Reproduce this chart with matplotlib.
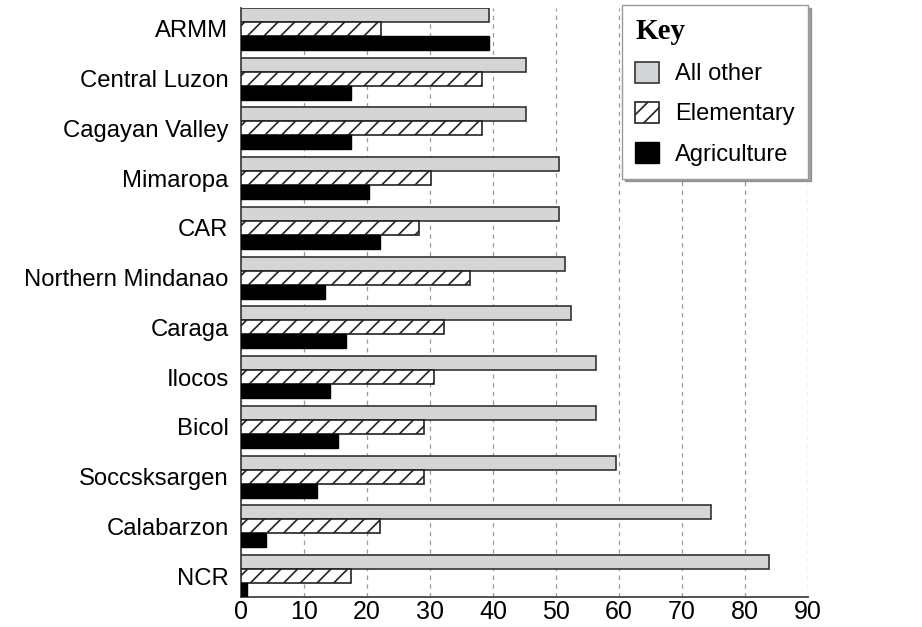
import numpy as np
import matplotlib
matplotlib.use("Agg")
import matplotlib.pyplot as plt

regions = ["ARMM", "Central Luzon", "Cagayan Valley", "Mimaropa", "CAR",
           "Northern Mindanao", "Caraga", "Ilocos", "Bicol", "Soccsksargen",
           "Calabarzon", "NCR"]
all_other = [39.3, 45.3, 45.3, 50.5, 50.5, 51.5, 52.4, 56.3, 56.3, 59.6, 74.6, 83.8]
elementary = [22.3, 38.2, 38.2, 30.2, 28.2, 36.3, 32.3, 30.7, 29.0, 29.0, 22.1, 17.4]
agriculture = [39.3, 17.4, 17.4, 20.3, 22.1, 13.3, 16.7, 14.1, 15.4, 12.1, 3.9, 0.9]
xticks = [0, 10, 20, 30, 40, 50, 60, 70, 80, 90]

plt.rcParams["font.family"] = ["Liberation Sans", "DejaVu Sans"]
plt.rcParams["hatch.linewidth"] = 1.2

fig = plt.figure(figsize=(9.22, 6.27), dpi=100)
ax = fig.add_axes([241 / 922, 1 - 597 / 627, (808 - 241) / 922, (597 - 8) / 627])

y = np.arange(len(regions))
h = 0.28
ax.barh(y - h, all_other, height=h, color="#d4d5d7", edgecolor="#333333",
        linewidth=1.2, label="All other", zorder=3)
ax.barh(y, elementary, height=h, color="white", edgecolor="#222222",
        hatch="//", linewidth=1.2, label="Elementary", zorder=3)
ax.barh(y + h, agriculture, height=h, color="black", edgecolor="black",
        linewidth=1.0, label="Agriculture", zorder=3)

ax.set_ylim(len(regions) - 1 + 1.5 * h, -1.5 * h)
ax.set_xlim(0, 90)
ax.set_xticks(xticks)
ax.set_yticks(y)
ax.set_yticklabels(regions, fontsize=17.2)
ax.tick_params(axis="x", labelsize=18, length=0, pad=2)
ax.tick_params(axis="y", length=0, pad=9)

ax.grid(axis="x", linestyle=(0, (3.5, 3.5)), color="#9a9a9a", linewidth=0.9, zorder=0)
ax.spines["top"].set_visible(False)
ax.spines["right"].set_visible(False)
ax.spines["left"].set_color("#444444")
ax.spines["bottom"].set_color("#444444")
ax.spines["left"].set_linewidth(1.3)
ax.spines["bottom"].set_linewidth(1.3)

leg = ax.legend(loc="upper right", bbox_to_anchor=(808 / 922, 1 - 5 / 627),
                bbox_transform=fig.transFigure, borderaxespad=0,
                title="Key", alignment="left", fontsize=17,
                title_fontproperties={"family": "Liberation Serif", "weight": "bold", "size": 21},
                frameon=True, fancybox=False, shadow=True,
                handlelength=1.0, handleheight=1.0, labelspacing=0.7,
                handletextpad=0.7, borderpad=0.55)
leg.get_frame().set_edgecolor("#999999")
leg.get_frame().set_linewidth(1.0)

fig.savefig("out.png", dpi=100)
